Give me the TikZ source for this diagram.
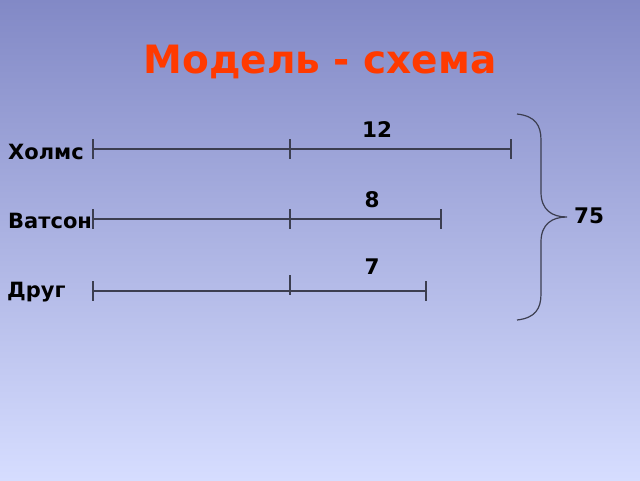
\documentclass[tikz,border=0pt]{standalone}
\usepackage{fontspec}
\setmainfont{DejaVu Sans}
\usepackage{xcolor}
\usetikzlibrary{positioning,calc}

\definecolor{bgtop}{RGB}{130,137,198}
\definecolor{bgbottom}{RGB}{214,221,255}
\definecolor{titlered}{RGB}{255,58,0}
\definecolor{segline}{RGB}{60,62,80}

\tikzset{
    seg/.style={draw=segline, line width=1.2pt},
    tick/.style={draw=segline, line width=1.2pt},
    who/.style={font=\fontsize{21}{24}\selectfont\bfseries, anchor=west, inner sep=0pt},
    num/.style={font=\fontsize{21.5}{24}\selectfont\bfseries, inner sep=0pt}
}

\begin{document}
\begin{tikzpicture}[x=1pt, y=-1pt]
    % background
    \shade[top color=bgtop, bottom color=bgbottom] (0,0) rectangle (640,480);
    \useasboundingbox (0,0) rectangle (640,480);

    % title
    \node[text=titlered, font=\fontsize{39}{44}\selectfont\bfseries] (title) at (320,62) {Модель - схема};

    % names
    \node[who] (holmes) at (8,152) {Холмс};
    \node[who] (watson) at (8,221) {Ватсон};
    \node[who] (friend) at (7,292) {Друг};

    % Holmes segment
    \coordinate (h0) at (93,149);
    \coordinate (h1) at (290,149);
    \coordinate (h2) at (511,149);
    \draw[seg] (h0) -- (h2);
    \foreach \p in {h0,h1,h2}
        \draw[tick] ($(\p)+(0,-10)$) -- ($(\p)+(0,10)$);
    \node[num] (n12) at (377,130) {12};

    % Watson segment
    \coordinate (w0) at (93,219);
    \coordinate (w1) at (290,219);
    \coordinate (w2) at (441,219);
    \draw[seg] (w0) -- (w2);
    \foreach \p in {w0,w1,w2}
        \draw[tick] ($(\p)+(0,-10)$) -- ($(\p)+(0,10)$);
    \node[num] (n8) at (372,200) {8};

    % friend segment
    \coordinate (f0) at (93,291);
    \coordinate (f1) at (290,285);
    \coordinate (f2) at (426,291);
    \draw[seg] (f0) -- (f2);
    \foreach \p in {f0,f1,f2}
        \draw[tick] ($(\p)+(0,-10)$) -- ($(\p)+(0,10)$);
    \node[num] (n7) at (372,267) {7};

    % brace
    \coordinate (btop) at (517,114);
    \coordinate (btip) at (567,217);
    \coordinate (bbot) at (517,320);
    \draw[segline, line width=1.2pt] (btop) .. controls (535,116) and (541,125) .. (541,140)
        -- (541,192) .. controls (541,210) and (552,217) .. (btip)
        .. controls (552,217) and (541,224) .. (541,242)
        -- (541,294) .. controls (541,309) and (535,318) .. (bbot);
    \node[num] (n75) at (589,216) {75};
\end{tikzpicture}
\end{document}
